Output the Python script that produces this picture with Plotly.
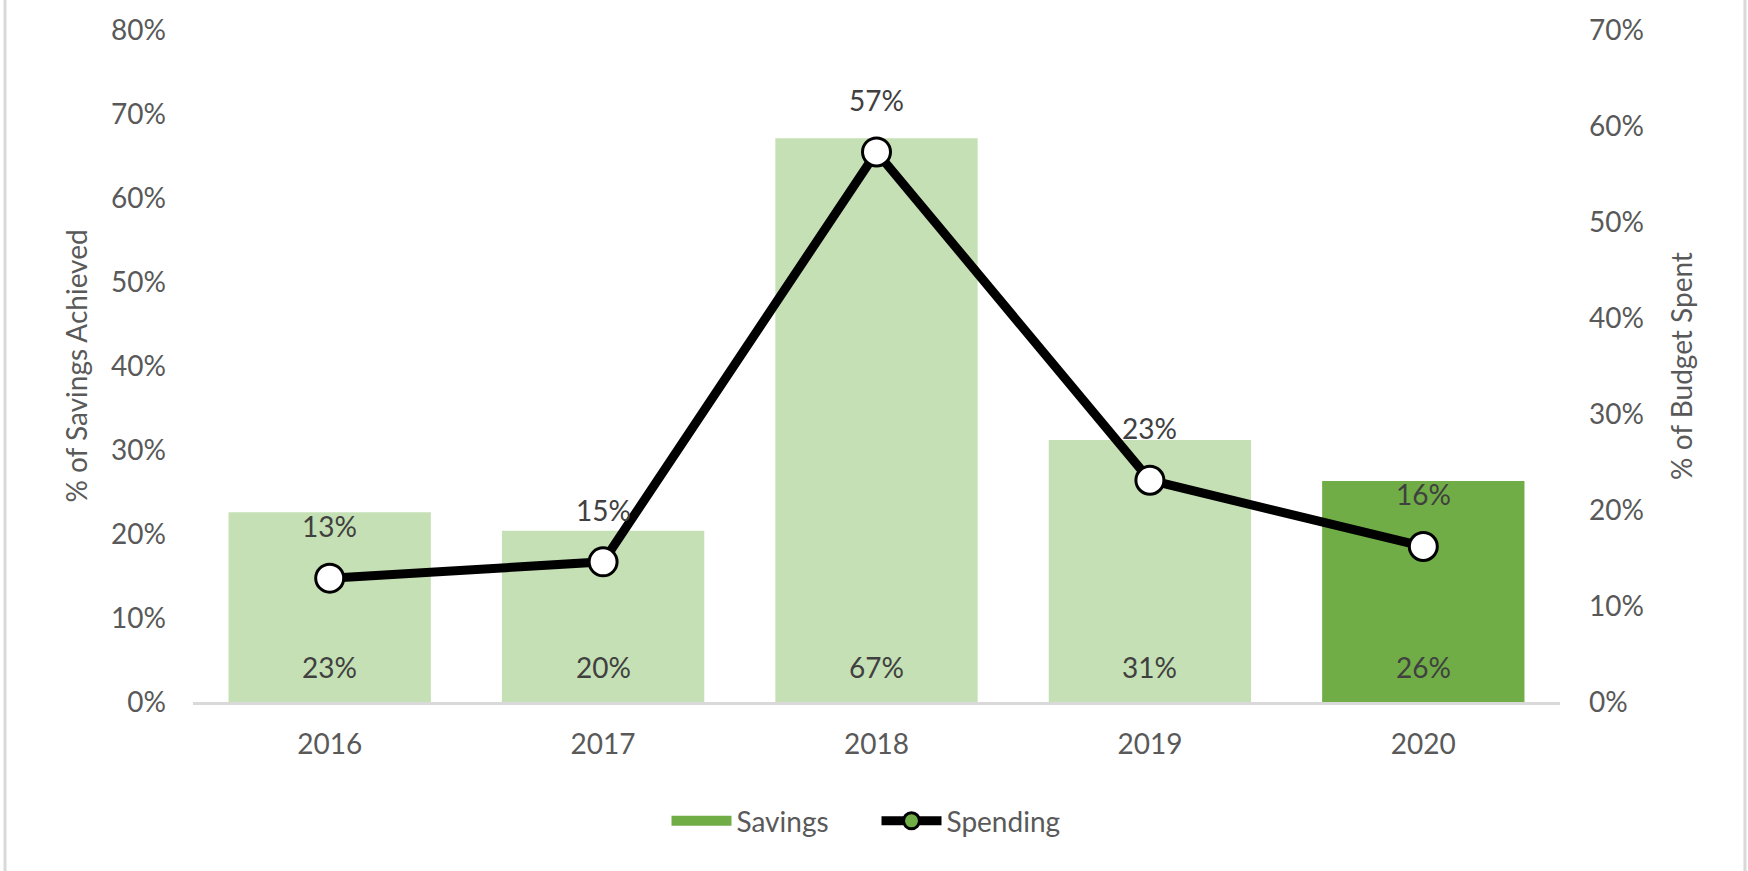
import plotly.graph_objects as go

years = ["2016", "2017", "2018", "2019", "2020"]
savings = [0.226, 0.204, 0.671, 0.312, 0.263]
spending = [0.129, 0.146, 0.573, 0.231, 0.162]

LIGHT = "#C5E0B4"
DARK = "#70AD47"
TXT = "#595959"
LBL = "#404040"
FONT = "Lato"
FS = 28

bar_colors = [LIGHT, LIGHT, LIGHT, LIGHT, DARK]

fig = go.Figure()

fig.add_trace(go.Bar(
    x=years, y=savings, name="Savings",
    marker=dict(color=bar_colors, line=dict(width=0)),
    showlegend=False, yaxis="y",
))
# legend proxy for Savings (dark green block)
fig.add_trace(go.Scatter(
    x=[years[0]], y=[None], name="Savings",
    mode="lines", line=dict(color=DARK, width=20),
    showlegend=True, yaxis="y", hoverinfo="skip",
))

fig.add_trace(go.Scatter(
    x=years, y=spending, name="Spending", yaxis="y2",
    mode="lines+markers",
    line=dict(color="black", width=9),
    marker=dict(size=28, color="white", line=dict(color="black", width=3)),
    showlegend=False,
))
fig.add_trace(go.Scatter(
    x=[years[0]], y=[None], name="Spending", yaxis="y2",
    mode="lines+markers",
    line=dict(color="black", width=9),
    marker=dict(size=16, color=DARK, line=dict(color="black", width=3)),
    showlegend=True, hoverinfo="skip",
))

# bar value labels near the base (x given as category index)
for i, v in enumerate(savings):
    fig.add_annotation(
        x=i, y=0, xref="x", yref="y", text=f"{v:.0%}",
        showarrow=False, yshift=35,
        font=dict(family=FONT, size=FS, color=LBL),
    )
# labels above spending points
for i, v in enumerate(spending):
    fig.add_annotation(
        x=i, y=v, xref="x", yref="y2", text=f"{v:.0%}",
        showarrow=False, yshift=52,
        font=dict(family=FONT, size=FS, color=LBL),
    )

# side border lines of the chart area
for px in (-0.1375, 1.1353):
    fig.add_shape(type="line", xref="paper", yref="paper",
                  x0=px, x1=px, y0=-0.3, y1=1.1,
                  line=dict(color="#D9D9D9", width=3))

fig.update_layout(
    width=1748, height=871,
    margin=dict(l=193, r=188, t=24, b=169),
    paper_bgcolor="white", plot_bgcolor="white",
    font=dict(family=FONT, size=FS, color=TXT),
    bargap=0.26,
    xaxis=dict(
        type="category", categoryorder="array", categoryarray=years,
        range=[-0.5, len(years) - 0.5], autorange=False,
        showgrid=False, showline=True, linecolor="#D9D9D9", linewidth=3,
        ticks="", ticklabelstandoff=15,
        tickfont=dict(family=FONT, size=FS, color=TXT),
    ),
    yaxis=dict(
        range=[0, 0.8], dtick=0.1, tickformat=".0%",
        showgrid=False, zeroline=False, showline=False, ticks="",
        ticklabelstandoff=26,
        tickfont=dict(family=FONT, size=FS, color=TXT),
        title=dict(text="% of Savings Achieved", standoff=15,
                   font=dict(family=FONT, size=FS, color=TXT)),
    ),
    yaxis2=dict(
        range=[0, 0.7], dtick=0.1, tickformat=".0%", overlaying="y", side="right",
        showgrid=False, zeroline=False, showline=False, ticks="",
        ticklabelstandoff=28,
        tickfont=dict(family=FONT, size=FS, color=TXT),
        title=dict(text="% of Budget Spent", standoff=29,
                   font=dict(family=FONT, size=FS, color=TXT)),
    ),
    legend=dict(
        orientation="h", x=0.5, xanchor="center", y=-0.14, yanchor="top",
        font=dict(family=FONT, size=FS, color=TXT),
        itemwidth=60, entrywidth=135, entrywidthmode="pixels",
    ),
)

fig.write_html("out.html", config={"displayModeBar": False},
               post_script="document.body.style.margin='0';")
